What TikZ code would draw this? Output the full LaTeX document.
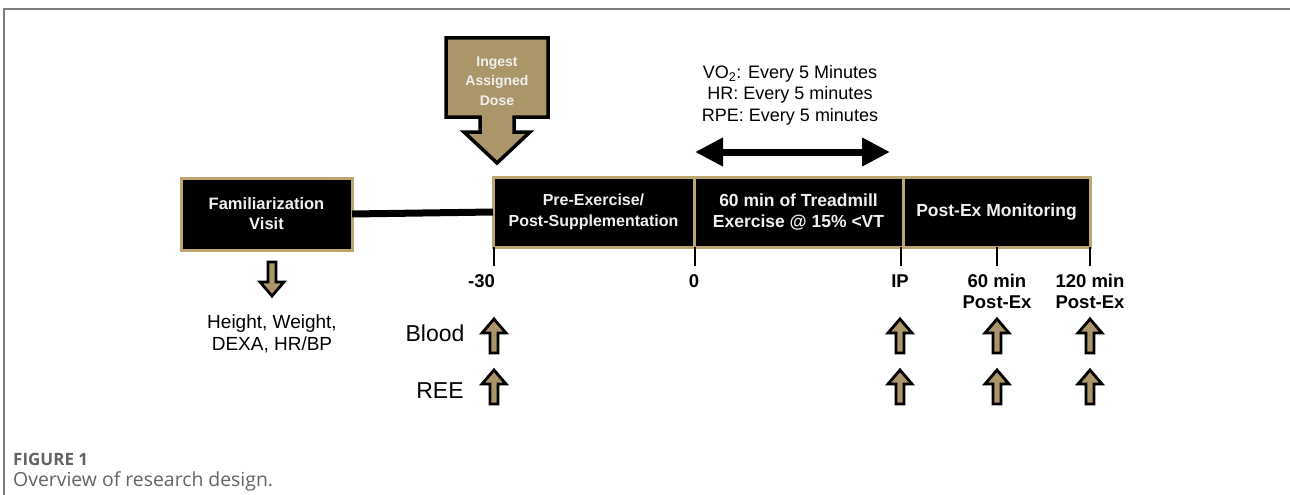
\documentclass[tikz,border=0pt]{standalone}
\usepackage{fontspec}
\setmainfont{Liberation Sans}
\newfontfamily\capfont{Open Sans}
\usetikzlibrary{arrows.meta}
\definecolor{gold}{RGB}{170,150,104}
\definecolor{goldline}{RGB}{188,166,112}
\definecolor{framegray}{RGB}{125,125,125}
\definecolor{capgray}{RGB}{100,100,100}
\definecolor{boxtext}{RGB}{240,240,240}
\begin{document}
\begin{tikzpicture}[x=1pt,y=-1pt,
  blackbox/.style={draw=goldline, line width=3pt, fill=black, text=boxtext,
    inner sep=0pt, outer sep=0pt, align=center, minimum height=70pt},
  ticklabel/.style={font=\fontsize{18.5}{21}\selectfont\bfseries, inner sep=0pt, align=center},
  rowlabel/.style={font=\fontsize{23}{26}\selectfont, inner sep=0pt},
  tickline/.style={line width=2.5pt},
  uparr/.pic={\draw[line width=2.8pt, fill=gold, line join=miter]
      (-4,17) -- (-4,-3) -- (-12,-3) -- (0,-17) -- (12,-3) -- (4,-3) -- (4,17) -- cycle;}
]
\useasboundingbox (0,0) rectangle (1290,495);
% frame
\draw[framegray, line width=1.2pt] (4,495) -- (4,9) -- (1290,9);

% boxes
\node[blackbox, minimum width=171pt, minimum height=72pt,
  font=\fontsize{16.5}{20}\selectfont\bfseries] (fam) at (266.5,214) {Familiarization\\Visit};
\node[blackbox, minimum width=201pt, font=\fontsize{16}{21}\selectfont\bfseries]
  (pre) at (593.5,212) {Pre-Exercise/\\Post-Supplementation};
\node[blackbox, minimum width=209pt, font=\fontsize{17.5}{21}\selectfont\bfseries]
  (tread) at (798.5,212) {60 min of Treadmill\\Exercise @ 15\% {<}VT};
\node[blackbox, minimum width=187pt, font=\fontsize{17.5}{21}\selectfont\bfseries]
  (post) at (996.5,212) {Post-Ex Monitoring};

% connector
\draw[line width=7pt] (fam.east) -- (pre.west);

% ticks
\coordinate (t1) at (494,247);
\coordinate (t2) at (695,247);
\coordinate (t3) at (901,247);
\coordinate (t4) at (997,247);
\coordinate (t5) at (1090,247);
\foreach \t in {t1,t2,t3,t4,t5}{\draw[tickline] (\t) -- ++(0,19);}

\node[ticklabel] (l1) at (481.5,281) {-30};
\node[ticklabel] (l2) at (694,281) {0};
\node[ticklabel] (l3) at (900,281) {IP};
\node[ticklabel] (l4) at (997,291.5) {60 min\\Post-Ex};
\node[ticklabel] (l5) at (1090,291.5) {120 min\\Post-Ex};

% row labels
\node[rowlabel] (blood) at (435,333) {Blood};
\node[rowlabel] (ree) at (440,391) {REE};

% up arrows
\foreach \x in {494,900,997,1090}{
  \pic at (\x,336) {uparr};
  \pic at (\x,387) {uparr};
}

% down arrow under familiarization
\pic[rotate=180] at (272,279) {uparr};
\node[font=\fontsize{19}{22}\selectfont, inner sep=0pt, align=center] (meas) at (272,334)
  {Height, Weight,\\DEXA, HR/BP};

% ingest arrow
\draw[line width=3.5pt, fill=gold, line join=miter]
  (446,38) -- (548,38) -- (548,117) -- (514,117) -- (514,132) -- (530,132)
  -- (497,163) -- (464,132) -- (480,132) -- (480,117) -- (446,117) -- cycle;
\node[font=\fontsize{14}{19.5}\selectfont\bfseries, text=boxtext, align=center, inner sep=0pt]
  (ingest) at (497,81) {Ingest\\Assigned\\Dose};

% measurement interval
\node[font=\fontsize{18}{21.5}\selectfont, align=center, inner sep=0pt] (meas2) at (790,95)
  {VO\textsubscript{2}: Every 5 Minutes\\HR: Every 5 minutes\\RPE: Every 5 minutes};
\coordinate (va) at (695,152);
\coordinate (vb) at (890,152);
\draw[line width=7pt, {Triangle[length=28pt,width=27pt]}-{Triangle[length=28pt,width=27pt]}] (va) -- (vb);

% caption
\node[anchor=west, inner sep=0pt, text=capgray, font=\capfont\fontsize{17}{19}\selectfont\bfseries]
  (figlab) at (13,459) {FIGURE 1};
\node[anchor=west, inner sep=0pt, text=capgray, font=\capfont\fontsize{19.4}{22}\selectfont]
  (cap) at (13,481) {Overview of research design.};
\end{tikzpicture}
\end{document}
